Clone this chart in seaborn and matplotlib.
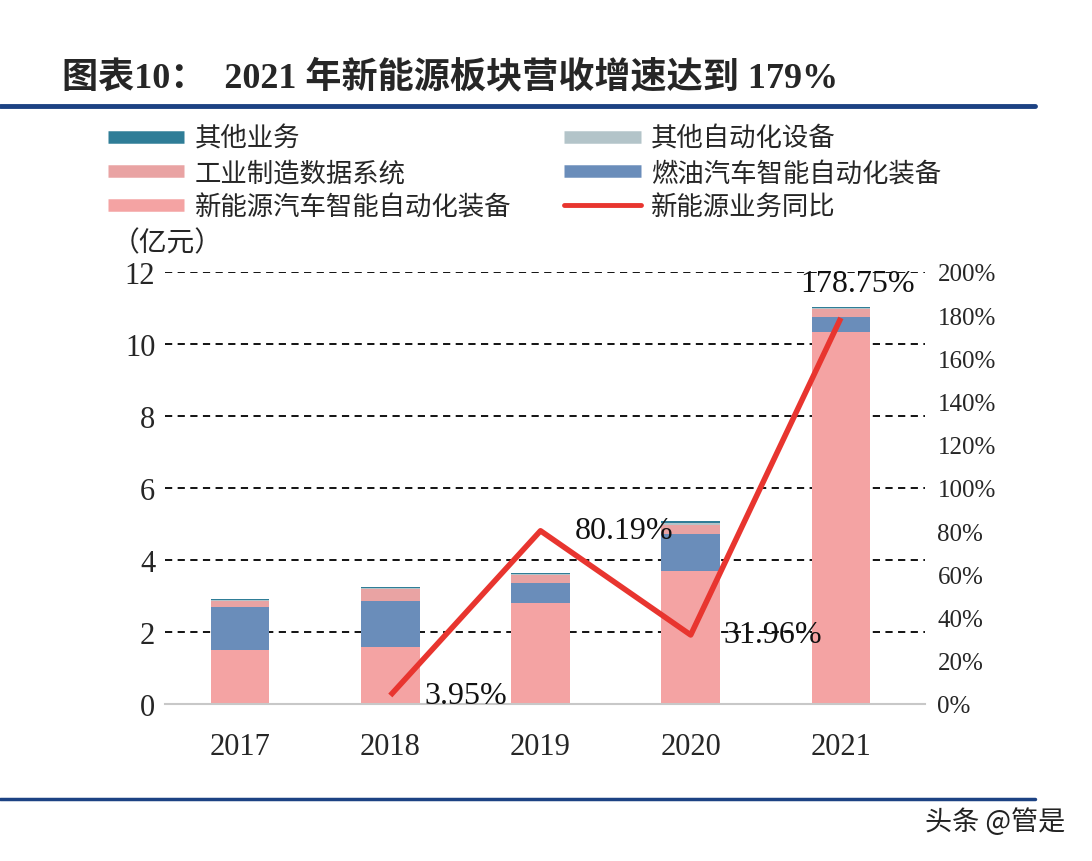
import numpy as np
import pandas as pd
import matplotlib
matplotlib.use("Agg")
import matplotlib.pyplot as plt
from matplotlib.lines import Line2D
import seaborn as sns

# =========================
# Data (亿元)
# =========================
years = ["2017", "2018", "2019", "2020", "2021"]
nev_auto = [1.51, 1.57, 2.80, 3.70, 10.32]      # 新能源汽车智能自动化装备
fuel_auto = [1.18, 1.28, 0.56, 1.02, 0.42]      # 燃油汽车智能自动化装备
industrial = [0.18, 0.34, 0.22, 0.26, 0.22]     # 工业制造数据系统
other_auto = [0.03, 0.03, 0.03, 0.05, 0.03]     # 其他自动化设备
other_biz = [0.02, 0.02, 0.03, 0.05, 0.03]      # 其他业务

growth_years = ["2018", "2019", "2020", "2021"]
growth = [3.95, 80.19, 31.96, 178.75]           # 新能源业务同比 (%)
growth_labels = ["3.95%", "80.19%", "31.96%", "178.75%"]

series_names = ["新能源汽车智能自动化装备", "燃油汽车智能自动化装备",
                "工业制造数据系统", "其他自动化设备", "其他业务"]
colors = ["#f4a3a3", "#6a8dba", "#e9a3a3", "#b3c4c9", "#2f7d97"]
line_color = "#e8352f"

sns.set_theme(style="white")
plt.rcParams['font.family'] = ['Liberation Serif', 'Noto Sans CJK SC']
cjk = ['Noto Sans CJK SC', 'DejaVu Sans']

fig = plt.figure(figsize=(10.92, 8.62), dpi=100)
ax = fig.add_axes([165/1092, 1-705/862, 760/1092, 432/862])

# cumulative stacks, draw tallest first so bars overlap into a stack
stack = np.cumsum(np.array([nev_auto, fuel_auto, industrial, other_auto, other_biz]), axis=0)
df = pd.DataFrame({"year": years})
for i in range(len(series_names) - 1, -1, -1):
    df["v"] = stack[i]
    sns.barplot(data=df, x="year", y="v", color=colors[i], width=0.39,
                saturation=1, linewidth=0, ax=ax, zorder=2)

ax.set_xlim(-0.5, 4.56)
ax.set_ylim(0, 12)
ax.set_yticks(range(0, 13, 2))
for yv in range(2, 13, 2):
    ax.axhline(yv, color="black", linestyle=(0, (4, 3)), linewidth=1.3, zorder=1)
ax.set_xlabel("")
ax.set_ylabel("")
ax.tick_params(axis="both", length=0, labelsize=22)
ax.tick_params(axis="y", pad=7)
ax.tick_params(axis="x", pad=20)
for s in ["top", "right", "left"]:
    ax.spines[s].set_visible(False)
ax.spines["bottom"].set_color("#c8c8c8")
ax.spines["bottom"].set_linewidth(1.5)

# growth line on right axis
ax2 = ax.twinx()
xpos = [years.index(y) for y in growth_years]
sns.lineplot(x=xpos, y=growth, color=line_color, linewidth=4, ax=ax2,
             solid_capstyle="butt", zorder=5)
ax2.set_ylim(0, 200)
ax2.set_yticks(range(0, 201, 20))
ax2.set_yticklabels([f"{v}%" for v in range(0, 201, 20)])
ax2.tick_params(axis="y", length=0, labelsize=18, pad=9)
ax2.set_ylabel("")
for s in ["top", "right", "left", "bottom"]:
    ax2.spines[s].set_visible(False)
ax2.grid(False)
ax.grid(False)

offsets = [(0.23, 0, "left"), (0.23, 0, "left"), (0.22, 0, "left"), (0.11, 16, "center")]
for x, g, lab, (dx, dy, ha) in zip(xpos, growth, growth_labels, offsets):
    ax2.text(x + dx, g + dy, lab, ha=ha, va="center", fontsize=23, color="#111111", zorder=6)

# legend
handles = [
    Line2D([0], [0], color=colors[4], lw=9, solid_capstyle="butt"),
    Line2D([0], [0], color=colors[2], lw=9, solid_capstyle="butt"),
    Line2D([0], [0], color=colors[0], lw=9, solid_capstyle="butt"),
    Line2D([0], [0], color=colors[3], lw=9, solid_capstyle="butt"),
    Line2D([0], [0], color=colors[1], lw=9, solid_capstyle="butt"),
    Line2D([0], [0], color=line_color, lw=3.5, solid_capstyle="round"),
]
labels = ["其他业务", "工业制造数据系统", "新能源汽车智能自动化装备",
          "其他自动化设备", "燃油汽车智能自动化装备", "新能源业务同比"]
fig.legend(handles=handles, labels=labels, ncol=2, loc="upper left",
           bbox_to_anchor=(84/1092, 1-102/862), frameon=False,
           prop={"family": cjk, "size": 19}, handlelength=2.9,
           handletextpad=0.4, columnspacing=2.0, labelspacing=0.28)

# title and decorations
fig.text(62/1092, 1-78/862, "图表10：  2021 年新能源板块营收增速达到 179%",
         fontsize=26, fontweight="heavy", va="center", ha="left")
fig.add_artist(Line2D([0, 1035/1092], [1-107/862, 1-107/862], color="#1c4283", lw=3.5))
fig.add_artist(Line2D([0, 1035/1092], [1-800/862, 1-800/862], color="#1c4283", lw=2.5))
fig.text(112/1092, 1-243/862, "（亿元）", fontsize=20, family=cjk, va="center", ha="left")
fig.text(1065/1092, 1-822/862, "头条 @管是", fontsize=19.5, family=cjk, va="center",
         ha="right", color="#222222")

fig.savefig("out.png", dpi=100, facecolor="white")
